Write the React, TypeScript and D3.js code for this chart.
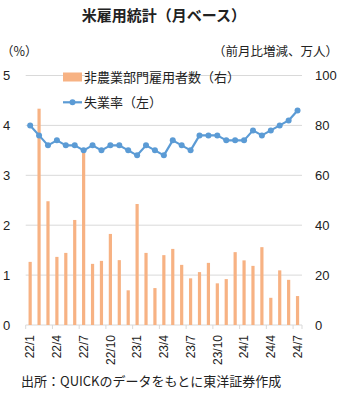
import React from "react";
import * as d3 from "d3";

const months = [
  "22/1","22/2","22/3","22/4","22/5","22/6","22/7","22/8","22/9","22/10","22/11","22/12",
  "23/1","23/2","23/3","23/4","23/5","23/6","23/7","23/8","23/9","23/10","23/11","23/12",
  "24/1","24/2","24/3","24/4","24/5","24/6","24/7",
];
const payrolls = [
  25.3, 86.7, 49.6, 27.3, 28.9, 42.1, 69.3, 24.5, 25.7, 36.5, 26.0, 13.9,
  48.5, 28.9, 14.8, 28.0, 30.5, 24.1, 18.7, 21.2, 24.9, 16.7, 18.4, 29.2,
  25.9, 23.7, 31.2, 10.9, 21.9, 18.1, 11.6,
];
const unemployment = [
  4.0, 3.8, 3.6, 3.7, 3.6, 3.6, 3.5, 3.6, 3.5, 3.6, 3.6, 3.5,
  3.4, 3.6, 3.5, 3.4, 3.7, 3.6, 3.5, 3.8, 3.8, 3.8, 3.7, 3.7,
  3.7, 3.9, 3.8, 3.9, 4.0, 4.1, 4.3,
];
const leftTicks = [0, 1, 2, 3, 4, 5];
const rightTicks = [0, 20, 40, 60, 80, 100];
const labelMonths = ["22/1","22/4","22/7","22/10","23/1","23/4","23/7","23/10","24/1","24/4","24/7"];

const title = "米雇用統計（月ベース）";
const leftTitle = "（%）";
const rightTitle = "（前月比増減、万人）";
const barName = "非農業部門雇用者数（右）";
const lineName = "失業率（左）";
const source = "出所：QUICKのデータをもとに東洋証券作成";

const W = 340, H = 398;
const plot = { left: 25.7, right: 302, top: 75.5, bottom: 325 };
const BAR = "#F7B283";
const LINE = "#5B9BD5";
const GRID = "#D9D9D9";
const TEXT = "#222";

export default function App() {
  const x = d3.scaleBand<string>().domain(months).range([plot.left, plot.right]).padding(0);
  const yL = d3.scaleLinear().domain([0, 5]).range([plot.bottom, plot.top]);
  const yR = d3.scaleLinear().domain([0, 100]).range([plot.bottom, plot.top]);
  const cx = (m: string) => (x(m) as number) + x.bandwidth() / 2;
  const line = d3
    .line<number>()
    .x((_, i) => cx(months[i]))
    .y((d) => yL(d));
  const tickIdx = months.map((_, i) => i).filter((i) => i % 3 === 0);

  return (
    <svg
      width={W}
      height={H}
      style={{ position: "absolute", left: 0, top: 0, background: "#fff" }}
      fontFamily="'Liberation Sans', Arial, 'Noto Sans CJK JP', sans-serif"
    >
      <rect width={W} height={H} fill="#fff" />
      <text x={164} y={21} textAnchor="middle" fontSize={15} fontWeight="bold" fill={TEXT}
        fontFamily="'Noto Sans CJK JP', sans-serif">{title}</text>
      <text x={1} y={56} fontSize={12.5} fill={TEXT} fontFamily="'Noto Sans CJK JP', sans-serif">{leftTitle}</text>
      <text x={338} y={56} textAnchor="end" fontSize={12.5} fill={TEXT}
        fontFamily="'Noto Sans CJK JP', sans-serif">{rightTitle}</text>

      {leftTicks.map((t) => (
        <line key={"g" + t} x1={plot.left} x2={plot.right} y1={yL(t)} y2={yL(t)} stroke={GRID} strokeWidth={1} />
      ))}
      {leftTicks.map((t) => (
        <text key={"l" + t} x={3} y={yL(t) + 4.5} fontSize={13} fill={TEXT}>{t}</text>
      ))}
      {rightTicks.map((t) => (
        <text key={"r" + t} x={315} y={yR(t) + 4.5} fontSize={13} fill={TEXT}>{t}</text>
      ))}

      {months.map((m, i) => (
        <rect key={"b" + m} x={cx(m) - 1.6} width={3.2} y={yR(payrolls[i])}
          height={plot.bottom - yR(payrolls[i])} fill={BAR} />
      ))}

      {tickIdx.map((i) => (
        <line key={"t" + i} x1={x(months[i]) as number} x2={x(months[i]) as number}
          y1={plot.bottom} y2={plot.bottom + 4} stroke={GRID} />
      ))}
      <line x1={plot.right} x2={plot.right} y1={plot.bottom} y2={plot.bottom + 4} stroke={GRID} />

      <path d={line(unemployment) || ""} fill="none" stroke={LINE} strokeWidth={2.2} strokeLinejoin="round" />
      {unemployment.map((v, i) => (
        <circle key={"c" + i} cx={cx(months[i])} cy={yL(v)} r={3} fill={LINE} />
      ))}

      {labelMonths.map((m) => (
        <text key={"x" + m} transform={`translate(${cx(m) + 4.3},${plot.bottom + 10}) rotate(-90)`}
          textAnchor="end" fontSize={12} fill={TEXT}>{m}</text>
      ))}

      <rect x={63} y={72.5} width={19} height={9} fill={BAR} />
      <text x={84} y={81.5} fontSize={13} fill={TEXT} fontFamily="'Noto Sans CJK JP', sans-serif">{barName}</text>
      <line x1={63} x2={82} y1={102.3} y2={102.3} stroke={LINE} strokeWidth={2.2} />
      <circle cx={72.5} cy={102.3} r={3} fill={LINE} />
      <text x={84} y={107} fontSize={13} fill={TEXT} fontFamily="'Noto Sans CJK JP', sans-serif">{lineName}</text>

      <text x={21} y={386} fontSize={13} fill={TEXT} fontFamily="'Noto Sans CJK JP', sans-serif">{source}</text>
    </svg>
  );
}
